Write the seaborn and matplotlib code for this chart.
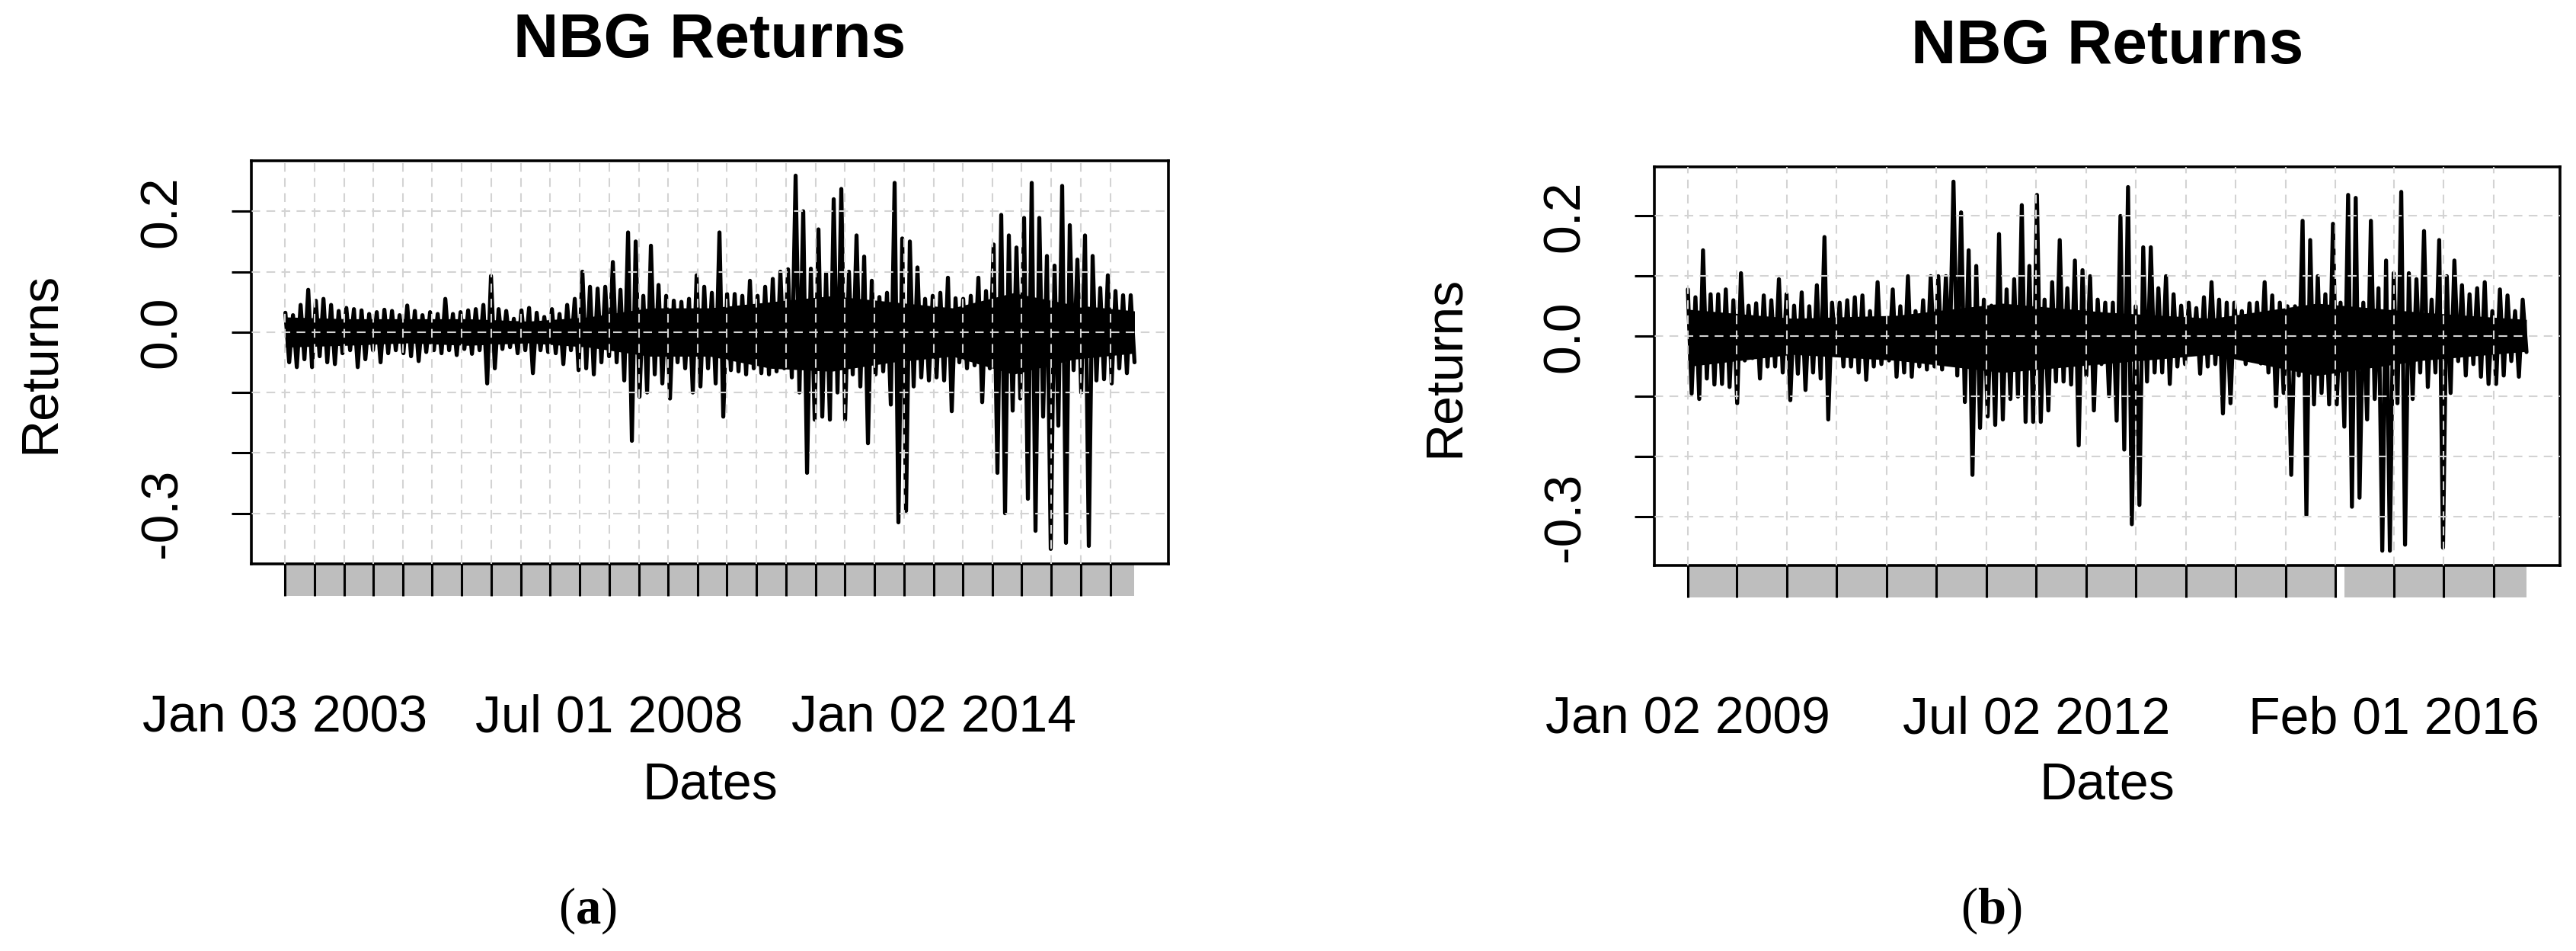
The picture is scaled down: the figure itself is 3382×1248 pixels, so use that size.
import numpy as np
import pandas as pd
import seaborn as sns
import matplotlib.pyplot as plt
import matplotlib.dates as mdates
import matplotlib.transforms as mtransforms
from matplotlib.patches import Rectangle
from matplotlib.ticker import FixedLocator, FixedFormatter

# NBG daily returns, summarised per small time bin (highest / lowest return
# of the bin, read off the original chart)
highs_a = [0.032, 0.028, 0.045, 0.070, 0.052, 0.055, 0.045, 0.035, 0.040, 0.038,
           0.036, 0.030, 0.033, 0.037, 0.035, 0.028, 0.044, 0.035, 0.028, 0.033,
           0.030, 0.055, 0.030, 0.033, 0.036, 0.038, 0.045, 0.093, 0.038, 0.035,
           0.022, 0.036, 0.040, 0.032, 0.025, 0.038, 0.030, 0.045, 0.055, 0.100,
           0.075, 0.072, 0.075, 0.116, 0.070, 0.165, 0.150, 0.060, 0.143, 0.078,
           0.060, 0.052, 0.050, 0.055, 0.094, 0.075, 0.065, 0.165, 0.063, 0.063,
           0.060, 0.085, 0.060, 0.075, 0.088, 0.100, 0.104, 0.259, 0.200, 0.105,
           0.170, 0.097, 0.220, 0.237, 0.100, 0.160, 0.125, 0.085, 0.058, 0.065,
           0.247, 0.155, 0.150, 0.107, 0.055, 0.060, 0.065, 0.090, 0.056, 0.055,
           0.060, 0.090, 0.068, 0.145, 0.194, 0.160, 0.140, 0.189, 0.247, 0.189,
           0.126, 0.110, 0.242, 0.177, 0.120, 0.160, 0.126, 0.073, 0.094, 0.068,
           0.061, 0.061]
lows_a = [-0.050, -0.058, -0.045, -0.058, -0.040, -0.050, -0.053, -0.035, -0.030, -0.058,
          -0.045, -0.030, -0.050, -0.035, -0.030, -0.035, -0.040, -0.048, -0.033, -0.030,
          -0.035, -0.030, -0.038, -0.028, -0.036, -0.030, -0.085, -0.060, -0.028, -0.025,
          -0.035, -0.030, -0.068, -0.030, -0.033, -0.035, -0.053, -0.030, -0.063, -0.060,
          -0.070, -0.050, -0.040, -0.050, -0.080, -0.180, -0.107, -0.100, -0.070, -0.085,
          -0.110, -0.050, -0.060, -0.100, -0.090, -0.060, -0.085, -0.140, -0.063, -0.065,
          -0.070, -0.060, -0.068, -0.070, -0.065, -0.060, -0.075, -0.100, -0.233, -0.145,
          -0.140, -0.145, -0.100, -0.145, -0.070, -0.090, -0.184, -0.070, -0.065, -0.120,
          -0.315, -0.296, -0.090, -0.075, -0.080, -0.075, -0.080, -0.131, -0.050, -0.060,
          -0.055, -0.116, -0.060, -0.233, -0.300, -0.130, -0.110, -0.276, -0.329, -0.140,
          -0.359, -0.155, -0.349, -0.063, -0.100, -0.354, -0.080, -0.078, -0.085, -0.060,
          -0.068, -0.050]

highs_b = [0.078, 0.065, 0.143, 0.070, 0.070, 0.078, 0.060, 0.105, 0.051, 0.055,
           0.068, 0.060, 0.095, 0.070, 0.051, 0.073, 0.050, 0.085, 0.165, 0.056,
           0.056, 0.060, 0.065, 0.068, 0.042, 0.090, 0.030, 0.078, 0.050, 0.100,
           0.042, 0.060, 0.100, 0.100, 0.100, 0.257, 0.206, 0.143, 0.117, 0.061,
           0.051, 0.170, 0.078, 0.095, 0.218, 0.117, 0.235, 0.061, 0.090, 0.160,
           0.080, 0.126, 0.110, 0.100, 0.061, 0.056, 0.056, 0.200, 0.248, 0.050,
           0.148, 0.148, 0.080, 0.100, 0.070, 0.051, 0.056, 0.047, 0.065, 0.090,
           0.061, 0.056, 0.056, 0.042, 0.055, 0.056, 0.090, 0.068, 0.056, 0.050,
           0.050, 0.192, 0.160, 0.100, 0.070, 0.187, 0.056, 0.235, 0.230, 0.056,
           0.192, 0.080, 0.126, 0.105, 0.240, 0.105, 0.095, 0.175, 0.061, 0.160,
           0.100, 0.126, 0.085, 0.070, 0.080, 0.090, 0.042, 0.078, 0.068, 0.042,
           0.061]
lows_b = [-0.095, -0.104, -0.070, -0.080, -0.079, -0.084, -0.111, -0.040, -0.036, -0.070,
          -0.050, -0.050, -0.060, -0.106, -0.062, -0.089, -0.060, -0.070, -0.138, -0.031,
          -0.050, -0.050, -0.060, -0.072, -0.050, -0.046, -0.040, -0.067, -0.060, -0.067,
          -0.050, -0.055, -0.050, -0.055, -0.040, -0.065, -0.109, -0.230, -0.152, -0.133,
          -0.147, -0.138, -0.104, -0.100, -0.142, -0.142, -0.142, -0.123, -0.075, -0.075,
          -0.080, -0.181, -0.065, -0.123, -0.046, -0.099, -0.140, -0.188, -0.312, -0.280,
          -0.075, -0.060, -0.060, -0.079, -0.050, -0.046, -0.026, -0.062, -0.050, -0.046,
          -0.128, -0.111, -0.016, -0.046, -0.040, -0.045, -0.060, -0.116, -0.094, -0.230,
          -0.065, -0.297, -0.113, -0.094, -0.113, -0.113, -0.150, -0.283, -0.268, -0.138,
          -0.104, -0.356, -0.356, -0.111, -0.346, -0.104, -0.060, -0.084, -0.060, -0.351,
          -0.094, -0.041, -0.065, -0.046, -0.067, -0.079, -0.079, -0.065, -0.041, -0.067,
          -0.026]

# solid "typical day" band around zero, one value per year
core_hi_a = [0.025, 0.022, 0.022, 0.022, 0.018, 0.025, 0.040, 0.040, 0.050, 0.060,
             0.050, 0.040, 0.065, 0.045, 0.035]
core_lo_a = [-0.025, -0.022, -0.018, -0.022, -0.018, -0.025, -0.040, -0.040, -0.060, -0.065,
             -0.050, -0.040, -0.070, -0.045, -0.035]
core_hi_b = [0.045, 0.030, 0.035, 0.055, 0.040, 0.030, 0.055, 0.040, 0.028]
core_lo_b = [-0.050, -0.030, -0.040, -0.060, -0.045, -0.030, -0.065, -0.040, -0.025]

start_a, end_a = "2003-01-03", "2017-05-31"
start_b, end_b = "2009-01-02", "2017-05-31"
closure_b = ("2015-06-29", "2015-08-03")   # Athens exchange closed

ticks_a = list(pd.date_range("2003-01-01", "2017-01-01", freq="6MS"))
labels_a = {"2003-01": "Jan 03 2003", "2008-07": "Jul 01 2008", "2014-01": "Jan 02 2014"}
ticks_b = (list(pd.date_range("2009-01-01", "2015-07-01", freq="6MS"))
           + list(pd.to_datetime(["2016-02-01", "2016-08-01", "2017-02-01"])))
labels_b = {"2009-01": "Jan 02 2009", "2012-07": "Jul 02 2012", "2016-02": "Feb 01 2016"}

y_ticks = [-0.3, -0.2, -0.1, 0.0, 0.1, 0.2]
y_labels = ["-0.3", "", "", "0.0", "", "0.2"]

sns.set_style("white")
plt.rcParams["font.family"] = ["Liberation Sans", "DejaVu Sans"]
plt.rcParams["text.color"] = "black"
plt.rcParams["axes.labelcolor"] = "black"
plt.rcParams["mathtext.fontset"] = "custom"
plt.rcParams["mathtext.rm"] = "Liberation Serif"
plt.rcParams["mathtext.bf"] = "Liberation Serif:bold"

FS = 49


def draw_panel(ax, highs, lows, core_hi, core_lo, start, end, ticks, labels, gap=None):
    # zig-zag between bin highs and lows -> dense return trace
    values = np.column_stack([highs, lows]).ravel()
    dates = pd.date_range(start, end, periods=len(values))
    df = pd.DataFrame({"Dates": dates, "Returns": values})
    sns.lineplot(data=df, x="Dates", y="Returns", ax=ax, color="black",
                 lw=3.8, sort=False, estimator=None)
    core_dates = pd.date_range(start, end, periods=len(core_hi))
    ax.fill_between(core_dates, core_lo, core_hi, color="black", lw=0, zorder=1.9)
    ax.margins(x=0.04, y=0.04)

    # grid drawn over the series, like the R/xts plot
    ax.set_axisbelow(False)
    ax.grid(True, color="#d3d3d3", linestyle=(0, (5.5, 4)), linewidth=1.5)

    for sp in ax.spines.values():
        sp.set_visible(True)
        sp.set_color("black")
        sp.set_linewidth(2.6)

    ax.yaxis.set_major_locator(FixedLocator(y_ticks))
    ax.yaxis.set_major_formatter(FixedFormatter(y_labels))
    tick_nums = mdates.date2num(ticks)
    ax.xaxis.set_major_locator(FixedLocator(tick_nums))
    ax.xaxis.set_major_formatter(FixedFormatter(
        [labels.get(t.strftime("%Y-%m"), "") for t in ticks]))

    ax.tick_params(axis="x", bottom=True, direction="out", length=30, width=2.2,
                   color="black", pad=93, labelsize=FS, labelcolor="black")
    ax.tick_params(axis="y", left=True, direction="out", length=19, width=2.2,
                   color="black", pad=42, labelsize=FS, labelcolor="black",
                   labelrotation=90)
    for lab in ax.get_yticklabels():
        lab.set_va("center")

    # grey band of per-observation ticks under the box
    trans = mtransforms.blended_transform_factory(ax.transData, ax.transAxes)
    band_h = 42 / (ax.get_position().height * fig.get_figheight() * fig.dpi)
    pieces = [(start, end)] if gap is None else [(start, gap[0]), (gap[1], end)]
    for s, e in pieces:
        x0, x1 = mdates.date2num(pd.to_datetime([s, e]))
        ax.add_patch(Rectangle((x0, 0), x1 - x0, -band_h, transform=trans,
                               facecolor="#bebebe", edgecolor="none",
                               clip_on=False, zorder=0.5))

    ax.set_title("NBG Returns", fontsize=59, fontweight="bold", pad=98,
                 color="black")
    ax.set_xlabel("Dates", fontsize=FS)
    ax.set_ylabel("Returns", fontsize=FS)


fig = plt.figure(figsize=(33.82, 12.48), dpi=100)
ax_a = fig.add_axes([0.0976, 0.4071, 0.3560, 0.4239])
ax_b = fig.add_axes([0.6422, 0.4054, 0.3516, 0.4191])

draw_panel(ax_a, highs_a, lows_a, core_hi_a, core_lo_a, start_a, end_a,
           ticks_a, labels_a)
draw_panel(ax_b, highs_b, lows_b, core_hi_b, core_lo_b, start_b, end_b,
           ticks_b, labels_b, gap=closure_b)

ax_a.xaxis.set_label_coords(0.5, -0.488)
ax_b.xaxis.set_label_coords(0.5, -0.49)
ax_a.yaxis.set_label_coords(-0.2035, 0.5)
ax_b.yaxis.set_label_coords(-0.204, 0.5)

fig.text(0.228, 0.029, r"($\mathbf{a}$)", fontsize=48, ha="center",
         va="baseline", family="Liberation Serif")
fig.text(0.773, 0.029, r"($\mathbf{b}$)", fontsize=48, ha="center",
         va="baseline", family="Liberation Serif")

fig.savefig("out.png", dpi=100, facecolor="white")
plt.close(fig)
